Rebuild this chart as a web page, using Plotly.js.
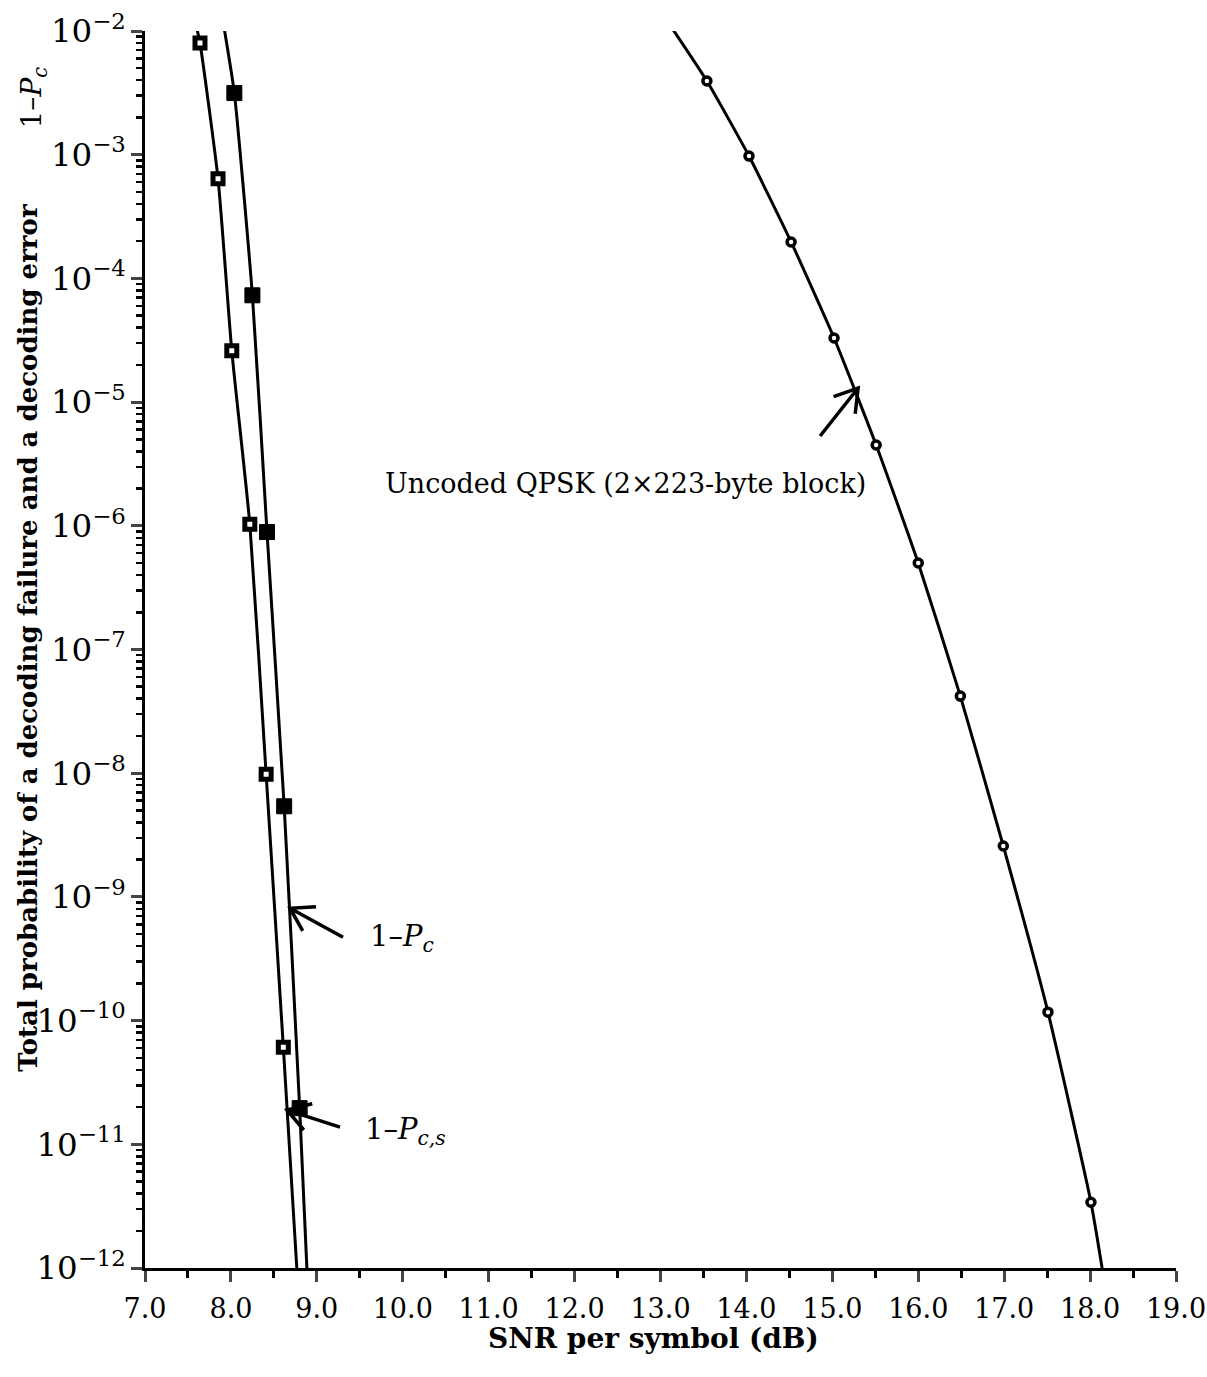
<!DOCTYPE html>
<html>
<head>
<meta charset="utf-8">
<script src="https://cdn.plot.ly/plotly-3.0.1.min.js"></script>
<style>html,body{margin:0;padding:0;background:#fff;}#chart{width:1207px;height:1377px;}</style>
</head>
<body>
<div id="chart"></div>
<script>
// ---- data ----
// 1 - P_c,s (open squares)
var snrCsPts = [7.64, 7.85, 8.01, 8.22, 8.41, 8.61];
var pCsPts   = [8.0e-3, 6.4e-4, 2.6e-5, 1.03e-6, 9.8e-9, 6.1e-11];
var snrCsEnds = [7.60, 8.767];
var pCsEnds   = [1.07e-2, 1.0e-12];

// 1 - P_c (filled squares)
var snrPcPts = [8.04, 8.25, 8.42, 8.62, 8.80];
var pPcPts   = [3.15e-3, 7.3e-5, 8.9e-7, 5.4e-9, 1.96e-11];
var snrPcEnds = [7.92, 8.884];
var pPcEnds   = [1.07e-2, 1.0e-12];

// Uncoded QPSK (open circles)
var snrQPts = [13.54, 14.03, 14.52, 15.02, 15.51, 16.00, 16.49, 16.99, 17.51, 18.01];
var pQPts   = [3.94e-3, 9.75e-4, 1.97e-4, 3.3e-5, 4.5e-6, 5.0e-7, 4.2e-8, 2.58e-9, 1.17e-10, 3.4e-12];
var snrQEnds = [13.14, 18.14];
var pQEnds   = [1.04e-2, 1.0e-12];

// tick labels
var xTickVals = [7,8,9,10,11,12,13,14,15,16,17,18,19];
var xTickText = ['7.0','8.0','9.0','10.0','11.0','12.0','13.0','14.0','15.0','16.0','17.0','18.0','19.0'];

// labels
var labelTexts = ['Uncoded QPSK (2\u00d7223-byte block)', '1\u2013<i>P</i><sub><i>c</i></sub>', '1\u2013<i>P</i><sub><i>c,s</i></sub>'];
var labelSnr = [9.77, 9.60, 9.54];
var labelLogP = [-5.66, -9.33, -10.89];

// arrow tips (data)
var arrowSnr = [15.30, 8.688, 8.653];
var arrowP = [1.30e-5, 8.1e-10, 1.89e-11];

// ---- build ----
function withEnds(xs, ys, ex, ey) {
  return {x: [ex[0]].concat(xs, [ex[1]]), y: [ey[0]].concat(ys, [ey[1]])};
}
var cs = withEnds(snrCsPts, pCsPts, snrCsEnds, pCsEnds);
var pc = withEnds(snrPcPts, pPcPts, snrPcEnds, pPcEnds);
var qq = withEnds(snrQPts, pQPts, snrQEnds, pQEnds);

var lineStyle = {color: '#000', width: 3, shape: 'spline', smoothing: 0.5};
var traces = [
  {x: cs.x, y: cs.y, mode: 'lines', line: lineStyle, hoverinfo: 'skip'},
  {x: pc.x, y: pc.y, mode: 'lines', line: lineStyle, hoverinfo: 'skip'},
  {x: qq.x, y: qq.y, mode: 'lines', line: lineStyle, hoverinfo: 'skip'},
  {x: snrCsPts, y: pCsPts, mode: 'markers', cliponaxis: false,
   marker: {symbol: 'square', size: 10, color: '#fff', line: {color: '#000', width: 5}}},
  {x: snrPcPts, y: pPcPts, mode: 'markers', cliponaxis: false,
   marker: {symbol: 'square', size: 15, color: '#000', line: {color: '#000', width: 1}}},
  {x: snrQPts, y: pQPts, mode: 'markers', cliponaxis: false,
   marker: {symbol: 'circle', size: 8, color: '#fff', line: {color: '#000', width: 3.5}}}
];

var serif = 'DejaVu Serif, Liberation Serif, serif';
var annotations = [];
for (var i = 0; i < labelTexts.length; i++) {
  annotations.push({x: labelSnr[i], y: labelLogP[i], xref: 'x', yref: 'y', text: labelTexts[i],
    showarrow: false, xanchor: 'left', yanchor: 'middle', font: {family: serif, size: i === 0 ? 27 : 29, color: '#000'}});
}
annotations.push({xref: 'paper', yref: 'paper', x: -0.113, y: 0.51, text: '<b>Total probability of a decoding failure and a decoding error</b>',
  textangle: -90, showarrow: false, xanchor: 'center', yanchor: 'middle', font: {family: serif, size: 26, color: '#000'}});
annotations.push({xref: 'paper', yref: 'paper', x: -0.108, y: 0.946, text: '1\u2013<i>P</i><sub><i>c</i></sub>',
  textangle: -90, showarrow: false, xanchor: 'center', yanchor: 'middle', font: {family: serif, size: 28, color: '#000'}});
annotations.push({xref: 'paper', yref: 'paper', x: 0.493, y: -0.0566, text: '<b>SNR per symbol (dB)</b>',
  showarrow: false, xanchor: 'center', yanchor: 'middle', font: {family: serif, size: 28, color: '#000'}});

// arrows as open-V paths in pixel offsets from the tip
var tails = [[-38, -48], [53, -29], [53, -17]];
var shapes = [];
for (var j = 0; j < arrowSnr.length; j++) {
  var t = tails[j];
  var len = Math.sqrt(t[0]*t[0] + t[1]*t[1]);
  var ux = t[0]/len, uy = t[1]/len;
  var th = 32 * Math.PI / 180, L = 26;
  var w1x = L*(ux*Math.cos(th) - uy*Math.sin(th)), w1y = L*(ux*Math.sin(th) + uy*Math.cos(th));
  var w2x = L*(ux*Math.cos(-th) - uy*Math.sin(-th)), w2y = L*(ux*Math.sin(-th) + uy*Math.cos(-th));
  var path = 'M ' + t[0] + ',' + t[1] + ' L 0,0 M ' + w1x.toFixed(1) + ',' + w1y.toFixed(1) + ' L 0,0 L ' + w2x.toFixed(1) + ',' + w2y.toFixed(1);
  shapes.push({type: 'path', xref: 'x', yref: 'y', xsizemode: 'pixel', ysizemode: 'pixel',
    xanchor: arrowSnr[j], yanchor: arrowP[j], path: path, line: {color: '#000', width: 3.5}});
}

var layout = {
  width: 1207, height: 1377,
  margin: {l: 145, r: 31, t: 31, b: 109},
  paper_bgcolor: '#fff', plot_bgcolor: '#fff',
  showlegend: false,
  font: {family: serif, color: '#000', size: 26},
  xaxis: {range: [7, 19], tickvals: xTickVals, ticktext: xTickText, ticks: 'outside', ticklen: 11, tickwidth: 3,
    showline: true, linewidth: 3, linecolor: '#000', showgrid: false, zeroline: false, mirror: false,
    ticklabeloverflow: 'allow', ticklabelstandoff: 4,
    tickfont: {family: serif, size: 27, color: '#000'},
    minor: {dtick: 0.5, tick0: 7, ticks: 'outside', ticklen: 7, tickwidth: 3, tickcolor: '#000', showgrid: false}},
  yaxis: {type: 'log', range: [-12, -2], dtick: 1, exponentformat: 'power', ticks: 'outside', ticklen: 11, tickwidth: 3,
    showline: true, linewidth: 3, linecolor: '#000', showgrid: false, zeroline: false, mirror: false,
    ticklabeloverflow: 'allow',
    tickfont: {family: serif, size: 26, color: '#000'},
    minor: {dtick: 'D1', ticks: 'outside', ticklen: 6, tickwidth: 2.5, tickcolor: '#000', showgrid: false}},
  annotations: annotations,
  shapes: shapes
};

Plotly.newPlot('chart', traces, layout, {displayModeBar: false, staticPlot: true});
</script>
</body>
</html>
